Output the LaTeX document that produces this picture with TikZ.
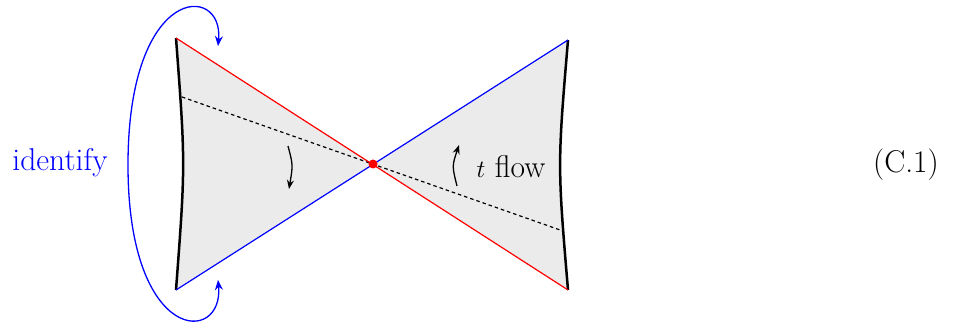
\documentclass[tikz,border=0pt]{standalone}
\usetikzlibrary{arrows.meta}
\begin{document}
\begin{tikzpicture}[x=1pt,y=-1pt,
  thinline/.style={line width=1.2pt},
  bdry/.style={line width=2.5pt},
  lbl/.style={font=\fontsize{31.5}{37}\selectfont, inner sep=0pt},
  flowarrow/.style={line width=1.3pt,-{Stealth[length=9pt,width=7pt]}},
  idarrow/.style={blue,line width=1.3pt,{Stealth[length=10pt,width=8pt]}-{Stealth[length=10pt,width=8pt]}}]
\useasboundingbox (0,0) rectangle (956,326);
\coordinate (LT) at (176,38);
\coordinate (LB) at (176,290);
\coordinate (RT) at (568,40);
\coordinate (RB) at (568,290);
\coordinate (O) at (373,164);
\fill[black!8] (LT) -- (O) -- (LB) .. controls (185.5,164) .. (LT) -- cycle;
\fill[black!8] (RT) -- (O) -- (RB) .. controls (557.5,165) .. (RT) -- cycle;
\draw[bdry] (LT) .. controls (185.5,164) .. (LB);
\draw[bdry] (RT) .. controls (557.5,165) .. (RB);
\coordinate (DL) at (182,97);
\coordinate (DR) at (563,231);
\draw[thinline, dash pattern=on 3.5pt off 3pt] (DL) -- (DR);
\draw[red,thinline] (LT) -- (RB);
\draw[blue,thinline] (LB) -- (RT);
\fill[red] (O) circle (4.5pt);
\coordinate (A1) at (218,46);
\coordinate (A2) at (218,280);
\draw[idarrow] (A1) .. controls (224,-17) and (128,-17) .. (128,165) .. controls (128,345) and (224,345) .. (A2);
\coordinate (F1s) at (288,146);
\coordinate (F1e) at (289,189);
\draw[flowarrow] (F1s) .. controls (293,165) .. (F1e);
\coordinate (F2s) at (457,186);
\coordinate (F2e) at (459,145);
\draw[flowarrow] (F2s) .. controls (452,166) .. (F2e);
\node[lbl] (tflow) at (511,167) {$t$ flow};
\node[lbl,text=blue] (idf) at (60,163) {identify};
\node[lbl] (eq) at (906,165) {(C.1)};
\end{tikzpicture}
\end{document}
